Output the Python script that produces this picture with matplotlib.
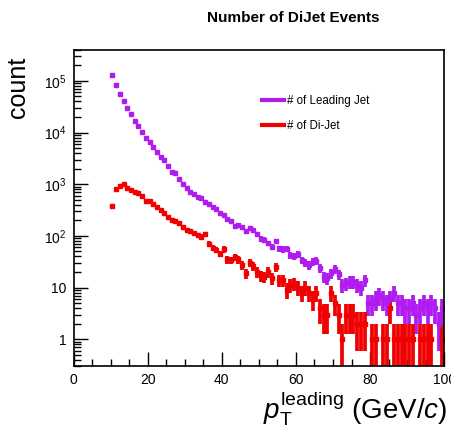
import numpy as np
import matplotlib
matplotlib.use("Agg")
import matplotlib.pyplot as plt
from matplotlib.lines import Line2D
from matplotlib.ticker import MultipleLocator, LogLocator, FuncFormatter, NullFormatter

plt.rcParams['font.family'] = ['Liberation Sans', 'DejaVu Sans']
plt.rcParams['mathtext.fontset'] = 'custom'
plt.rcParams['mathtext.rm'] = 'Liberation Sans'
plt.rcParams['mathtext.it'] = 'Liberation Sans:italic'

# 1 GeV bins from 10 to 100 GeV/c
bin_centers = np.arange(10, 100) + 0.5

leading_counts = [
    130000, 82000, 57000, 40500, 30000, 22400, 17100, 13300, 10400, 8000,
    6600, 5200, 4200, 3400, 2900, 2300, 1700, 1650, 1280, 1000,
    860, 720, 640, 560, 530, 460, 420, 370, 330, 280,
    250, 215, 195, 155, 160, 150, 125, 140, 130, 108,
    88, 84, 72, 62, 78, 57, 55, 56, 43, 40,
    44, 34, 30, 27, 32, 33, 24, 16, 15, 19,
    23, 18, 11, 12, 13, 13, 11, 10, 14, 5,
    5, 6, 7, 6, 5, 6, 8, 5, 5, 4,
    4, 5, 3, 4, 5, 4, 5, 4, 2, 4,
]

dijet_counts = [
    380, 810, 930, 1000, 830, 780, 715, 675, 580, 480,
    480, 412, 360, 320, 275, 237, 205, 190, 175, 150,
    131, 122, 115, 103, 97, 108, 70, 58, 53, 45,
    55, 35, 34, 39, 35, 27, 19, 30, 26, 20,
    17, 16, 20, 15, 25, 14, 14, 9, 11, 12,
    10, 8, 10, 8, 6, 8, 4, 3, 3, 8,
    5, 3, 1, 3, 3, 3, 2, 2, 2, 0,
    1, 1, 0, 1, 1, 4, 1, 1, 1, 1,
    1, 1, 0, 1, 1, 1, 1, 0, 0, 1,
]

purple = '#b01cf0'
red = '#f00000'


def draw_hist(ax, counts, color):
    y = np.array(counts, dtype=float)
    keep = y > 0
    x = bin_centers[keep]
    y = y[keep]
    err = np.sqrt(y)
    lower = y - np.maximum(y - err, 1e-2)
    ax.errorbar(x, y, yerr=[lower, err], xerr=0.5, fmt='s', ms=2.8,
                color=color, mec=color, elinewidth=2.7, capsize=0)


fig = plt.figure(figsize=(4.51, 4.37), dpi=100)
ax = fig.add_axes([0.163, 0.162, 0.822, 0.724])

draw_hist(ax, leading_counts, purple)
draw_hist(ax, dijet_counts, red)

ax.set_yscale('log')
ax.set_xlim(0, 100)
ax.set_ylim(0.3, 4e5)

ax.xaxis.set_major_locator(MultipleLocator(20))
ax.xaxis.set_minor_locator(MultipleLocator(5))
ax.yaxis.set_major_locator(LogLocator(base=10, numticks=10))
ax.yaxis.set_minor_locator(LogLocator(base=10, subs=np.arange(2, 10), numticks=20))
ax.yaxis.set_minor_formatter(NullFormatter())


def log_label(v, pos):
    n = int(round(np.log10(v)))
    if n == 0:
        return '1'
    if n == 1:
        return '10'
    return r'$\mathregular{10^{%d}}$' % n


ax.yaxis.set_major_formatter(FuncFormatter(log_label))
ax.tick_params(which='both', direction='in', top=False, right=False,
               labelsize=10, width=1, pad=5)
ax.tick_params(which='major', length=10)
ax.tick_params(which='minor', length=5)
for s in ax.spines.values():
    s.set_linewidth(1.2)

handles = [Line2D([], [], color=purple, lw=3), Line2D([], [], color=red, lw=3)]
ax.legend(handles, ['# of Leading Jet', '# of Di-Jet'], loc='upper left',
          bbox_to_anchor=(0.48, 0.89), frameon=False, fontsize=8.3,
          handlelength=1.9, handletextpad=0.25, labelspacing=1.15)

fig.text(0.65, 0.958, 'Number of DiJet Events', ha='center', va='center',
         fontsize=11, fontweight='bold')
fig.text(0.04, 0.80, 'count', rotation=90, ha='center', va='center', fontsize=18)
fig.text(0.992, 0.066, r'$p_{\mathrm{T}}^{\mathrm{leading}}$ (GeV/$c$)',
         ha='right', va='center', fontsize=20)

fig.savefig('out.png', dpi=100)
